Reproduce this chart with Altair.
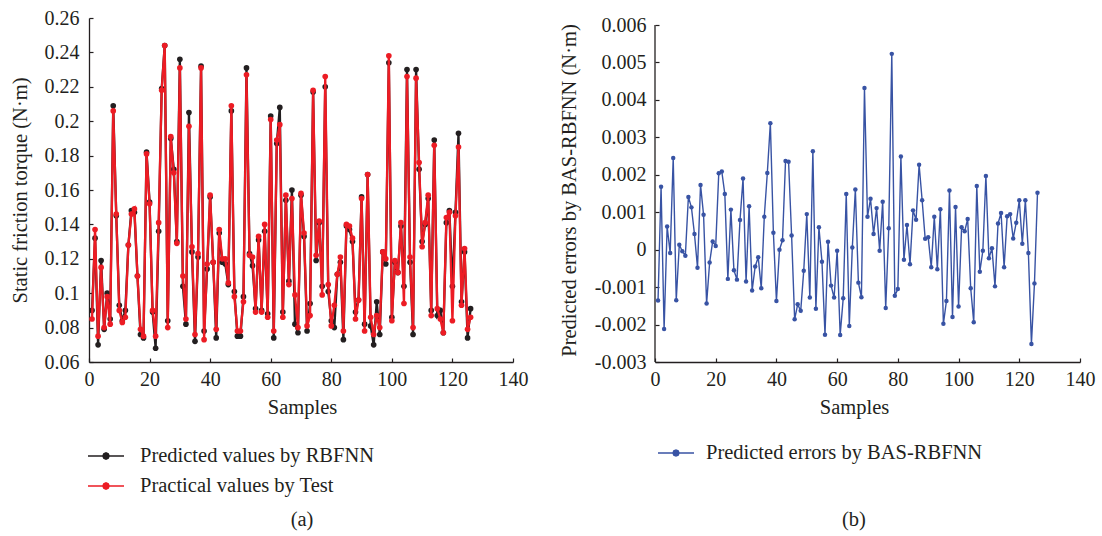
import altair as alt
import pandas as pd

samples = list(range(1, 127))

rbfnn = [
    0.090, 0.132, 0.070, 0.119, 0.079, 0.100, 0.085, 0.209, 0.145, 0.093,
    0.084, 0.090, 0.128, 0.148, 0.147, 0.110, 0.076, 0.074, 0.182, 0.153,
    0.089, 0.068, 0.136, 0.219, 0.244, 0.084, 0.190, 0.172, 0.130, 0.236,
    0.104, 0.082, 0.205, 0.124, 0.072, 0.121, 0.232, 0.078, 0.114, 0.156,
    0.118, 0.074, 0.135, 0.118, 0.117, 0.105, 0.206, 0.101, 0.075, 0.075,
    0.098, 0.231, 0.123, 0.116, 0.091, 0.131, 0.090, 0.136, 0.088, 0.203,
    0.074, 0.187, 0.208, 0.089, 0.154, 0.107, 0.160, 0.082, 0.077, 0.157,
    0.133, 0.078, 0.094, 0.217, 0.119, 0.141, 0.104, 0.220, 0.101, 0.084,
    0.080, 0.111, 0.118, 0.073, 0.139, 0.137, 0.130, 0.089, 0.096, 0.156,
    0.082, 0.169, 0.081, 0.070, 0.095, 0.076, 0.124, 0.117, 0.234, 0.086,
    0.118, 0.112, 0.139, 0.104, 0.230, 0.118, 0.076, 0.230, 0.172, 0.130,
    0.140, 0.155, 0.090, 0.189, 0.087, 0.090, 0.077, 0.141, 0.148, 0.104,
    0.147, 0.193, 0.095, 0.124, 0.074, 0.091,
]

practical = [
    0.085, 0.137, 0.075, 0.115, 0.080, 0.098, 0.082, 0.206, 0.146, 0.090,
    0.083, 0.086, 0.128, 0.146, 0.149, 0.110, 0.079, 0.075, 0.181, 0.152,
    0.090, 0.075, 0.141, 0.218, 0.244, 0.080, 0.191, 0.170, 0.129, 0.231,
    0.110, 0.085, 0.197, 0.127, 0.076, 0.123, 0.231, 0.073, 0.117, 0.157,
    0.118, 0.079, 0.137, 0.120, 0.120, 0.106, 0.209, 0.098, 0.078, 0.078,
    0.095, 0.227, 0.122, 0.121, 0.089, 0.133, 0.089, 0.140, 0.086, 0.201,
    0.078, 0.189, 0.198, 0.086, 0.157, 0.105, 0.155, 0.099, 0.080, 0.158,
    0.135, 0.081, 0.087, 0.218, 0.122, 0.142, 0.099, 0.226, 0.105, 0.081,
    0.093, 0.111, 0.121, 0.078, 0.140, 0.139, 0.132, 0.085, 0.096, 0.155,
    0.078, 0.169, 0.086, 0.076, 0.087, 0.080, 0.124, 0.120, 0.238, 0.084,
    0.119, 0.112, 0.141, 0.094, 0.226, 0.121, 0.080, 0.225, 0.176, 0.127,
    0.141, 0.157, 0.087, 0.186, 0.091, 0.085, 0.077, 0.144, 0.147, 0.084,
    0.145, 0.185, 0.093, 0.126, 0.079, 0.086,
]

bas_errors = [
    -0.00136, 0.00168, -0.00212, 0.00062, -0.00009, 0.00245, -0.00135, 0.00013, -0.00004, -0.00016,
    0.00141, 0.00113, 0.00042, -0.00048, 0.00173, 0.00093, -0.00144, -0.00034, 0.00022, 0.00010,
    0.00204, 0.00209, 0.00149, -0.00078, 0.00107, -0.00055, -0.00080, 0.00079, 0.00190, -0.00085,
    0.00116, -0.00109, -0.00045, -0.00020, -0.00103, 0.00088, 0.00205, 0.00338, 0.00045, -0.00137,
    0.00000, 0.00025, 0.00237, 0.00235, 0.00038, -0.00186, -0.00146, -0.00163, -0.00056, 0.00095,
    -0.00128, 0.00263, -0.00158, 0.00060, -0.00032, -0.00227, 0.00021, -0.00096, -0.00128, -0.00003,
    -0.00228, -0.00130, 0.00149, -0.00204, 0.00006, 0.00161, -0.00088, -0.00127, 0.00432, 0.00088,
    0.00136, 0.00042, 0.00111, -0.00003, 0.00128, -0.00156, 0.00057, 0.00523, -0.00123, -0.00105,
    0.00249, -0.00027, 0.00066, -0.00039, 0.00105, 0.00080, 0.00227, 0.00132, 0.00029, 0.00033,
    -0.00047, 0.00088, -0.00052, 0.00108, -0.00198, -0.00137, 0.00158, -0.00180, 0.00114, -0.00152,
    0.00060, 0.00049, 0.00082, -0.00103, -0.00194, 0.00170, -0.00059, -0.00003, 0.00197, -0.00023,
    0.00004, -0.00098, 0.00070, 0.00098, -0.00047, 0.00089, 0.00095, 0.00030, 0.00072, 0.00132,
    0.00016, 0.00132, -0.00009, -0.00252, -0.00090, 0.00152,
]

x_ticks = [0, 20, 40, 60, 80, 100, 120, 140]
left_y_ticks = [0.06, 0.08, 0.10, 0.12, 0.14, 0.16, 0.18, 0.20, 0.22, 0.24, 0.26]
right_y_ticks = [-0.003, -0.002, -0.001, 0.0, 0.001, 0.002, 0.003, 0.004, 0.005, 0.006]

name_rbf = "Predicted values by RBFNN"
name_test = "Practical values by Test"
name_bas = "Predicted errors by BAS-RBFNN"

FONT = "Liberation Serif"
INK = "#231f20"
BLACK = "#231f20"
RED = "#ec1c24"
BLUE = "#3853a4"

W_L, W_R, H = 424, 425, 344

SYMBOL = ("M-1,0L1,0M0.17,0L0.12,0.12L0,0.17L-0.12,0.12L-0.17,0"
          "L-0.12,-0.12L0,-0.17L0.12,-0.12Z")

df_rbf = pd.DataFrame({"Sample": samples, "Value": rbfnn, "Series": name_rbf})
df_test = pd.DataFrame({"Sample": samples, "Value": practical, "Series": name_test})
df_bas = pd.DataFrame({"Sample": samples, "Value": bas_errors, "Method": name_bas})

label_expr = "replace(format(datum.value, '~g'), '\u2212', '-')"

x_scale = alt.Scale(domain=[0, 140], nice=False, zero=False)
yl_scale = alt.Scale(domain=[0.06, 0.26], nice=False, zero=False)
yr_scale = alt.Scale(domain=[-0.003, 0.006188], nice=False, zero=False)

left_color = alt.Color(
    "Series:N",
    scale=alt.Scale(domain=[name_rbf, name_test], range=[BLACK, RED]),
    legend=alt.Legend(
        orient="none", legendX=-2, legendY=419, title=None,
        symbolType=SYMBOL, symbolSize=1296, symbolStrokeWidth=1.6,
        labelFont=FONT, labelFontSize=20.5, labelColor=INK,
        labelOffset=15, rowPadding=0, labelLimit=500,
    ),
)

right_color = alt.Color(
    "Method:N",
    scale=alt.Scale(domain=[name_bas], range=[BLUE]),
    legend=alt.Legend(
        orient="none", legendX=2, legendY=416, title=None,
        symbolType=SYMBOL, symbolSize=1296, symbolStrokeWidth=1.4,
        labelFont=FONT, labelFontSize=20.5, labelColor=INK,
        labelOffset=11, labelLimit=500,
    ),
)


def main_x_axis(title_x):
    return alt.Axis(
        values=x_ticks, ticks=False, grid=False, labelFlush=False,
        domainColor=INK, domainWidth=1.3,
        labelFont=FONT, labelFontSize=20, labelColor=INK, labelPadding=7,
        title="Samples", titleFont=FONT, titleFontSize=20.5,
        titleFontWeight="normal", titleColor=INK,
        titleX=title_x, titleY=35, titleBaseline="top", titleAlign="center",
    )


def tick_x_axis():
    return alt.Axis(
        orient="top", offset=-H, values=x_ticks, labels=False, domain=False,
        ticks=True, tickSize=4, tickColor=INK, tickWidth=1.2, grid=False, title=None,
    )


def tick_y_axis(width, values):
    return alt.Axis(
        orient="right", offset=-width, values=values, labels=False, domain=False,
        ticks=True, tickSize=4, tickColor=INK, tickWidth=1.2, grid=False, title=None,
    )


# ---------- left panel ----------
left_black = alt.Chart(df_rbf).mark_line(
    strokeWidth=2.3,
    point=alt.OverlayMarkDef(filled=True, size=32, opacity=1),
).encode(
    x=alt.X("Sample:Q", scale=x_scale, axis=main_x_axis(213)),
    y=alt.Y("Value:Q", scale=yl_scale, axis=alt.Axis(
        values=left_y_ticks, ticks=False, grid=False, labelFlush=False,
        domainColor=INK, domainWidth=1.3, labelExpr=label_expr,
        labelFont=FONT, labelFontSize=20, labelColor=INK, labelPadding=10,
        title="Static friction torque (N\u00b7m)", titleFont=FONT, titleFontSize=20.5,
        titleFontWeight="normal", titleColor=INK, titleX=-69, titleY=172,
        titleAngle=270, titleBaseline="middle", titleAlign="center",
    )),
    color=left_color,
)

left_red = alt.Chart(df_test).mark_line(
    strokeWidth=2.3,
    point=alt.OverlayMarkDef(filled=True, size=32, opacity=1),
).encode(
    x=alt.X("Sample:Q", scale=x_scale, axis=tick_x_axis()),
    y=alt.Y("Value:Q", scale=yl_scale, axis=tick_y_axis(W_L, left_y_ticks)),
    color=left_color,
)

caption_a = alt.Chart(pd.DataFrame({"t": ["(a)"]})).mark_text(
    font=FONT, fontSize=20.5, color=INK, baseline="middle", align="center",
).encode(
    x=alt.value(213), y=alt.value(502), text="t:N",
)

left = alt.layer(left_black, left_red, caption_a).resolve_axis(
    x="independent", y="independent"
).properties(width=W_L, height=H)

# ---------- right panel ----------
right_line = alt.Chart(df_bas).mark_line(
    strokeWidth=1.4,
    point=alt.OverlayMarkDef(filled=True, size=20, opacity=1),
).encode(
    x=alt.X("Sample:Q", scale=x_scale, axis=main_x_axis(199)),
    y=alt.Y("Value:Q", scale=yr_scale, axis=alt.Axis(
        values=right_y_ticks, ticks=False, grid=False, domain=False, labelFlush=False,
        labelExpr=label_expr,
        labelFont=FONT, labelFontSize=20, labelColor=INK, labelPadding=9,
        title="Predicted errors by BAS-RBFNN (N\u00b7m)", titleFont=FONT, titleFontSize=20.5,
        titleFontWeight="normal", titleColor=INK, titleX=-86, titleY=172,
        titleAngle=270, titleBaseline="middle", titleAlign="center",
    )),
    color=right_color,
)

right_ticks = alt.Chart(df_bas).mark_point(opacity=0).encode(
    x=alt.X("Sample:Q", scale=x_scale, axis=tick_x_axis()),
    y=alt.Y("Value:Q", scale=yr_scale, axis=tick_y_axis(W_R, right_y_ticks)),
)

right_domain = alt.Chart(pd.DataFrame({"lo": [right_y_ticks[0]], "hi": [right_y_ticks[-1]]})).mark_rule(
    color=INK, strokeWidth=1.3,
).encode(
    x=alt.value(0),
    y=alt.Y("lo:Q", scale=yr_scale, axis=None),
    y2="hi:Q",
)

caption_b = alt.Chart(pd.DataFrame({"t": ["(b)"]})).mark_text(
    font=FONT, fontSize=20.5, color=INK, baseline="middle", align="center",
).encode(
    x=alt.value(199), y=alt.value(502), text="t:N",
)

right = alt.layer(right_domain, right_line, right_ticks, caption_b).resolve_axis(
    x="independent", y="independent"
).properties(width=W_R, height=H)

chart = alt.hconcat(left, right, spacing=142, bounds="flush").resolve_scale(
    color="independent"
).resolve_legend(color="independent").properties(
    padding={"left": 10, "top": 8, "right": 5, "bottom": 5},
    background="white",
).configure_view(stroke=None)

chart.save("out.html", embed_options={"renderer": "svg", "actions": False})
